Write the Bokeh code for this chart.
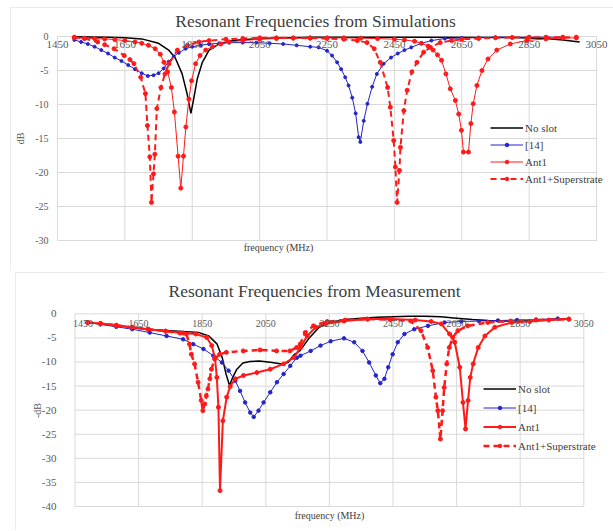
import math
from bokeh.plotting import figure
from bokeh.layouts import column
from bokeh.models import Legend, LegendItem, Range1d, LabelSet, Label, ColumnDataSource
from bokeh.embed import file_html
from bokeh.resources import INLINE

# ---------------- data ----------------
x_ticks = [1450, 1650, 1850, 2050, 2250, 2450, 2650, 2850, 3050]
sim_y_ticks = [0, -5, -10, -15, -20, -25, -30]
meas_y_ticks = [0, -5, -10, -15, -20, -25, -30, -35, -40]
series_names = ["No slot", "[14]", "Ant1", "Ant1+Superstrate"]

# Simulations
sim_noslot_f = [1500, 1600, 1650, 1700, 1750, 1780, 1800, 1820, 1835, 1846, 1855, 1865, 1880, 1900, 1930, 1970, 2050, 2200, 2500, 2800, 2900, 2950, 3000]
sim_noslot_db = [-0.05, -0.1, -0.2, -0.35, -1.0, -2.0, -3.2, -5.5, -8.5, -11.3, -9.0, -6.2, -3.8, -2.0, -1.1, -0.6, -0.3, -0.1, -0.1, -0.15, -0.3, -0.5, -0.8]

sim_ref14_f = [1500, 1520, 1540, 1560, 1580, 1600, 1620, 1640, 1660, 1680, 1700, 1718, 1735, 1750, 1765, 1780, 1795, 1810, 1830, 1850, 1875, 1900, 1930, 1960, 2000, 2040, 2080, 2120, 2160, 2200, 2225, 2250, 2265, 2280, 2292, 2304, 2314, 2325, 2335, 2344, 2349, 2359, 2370, 2384, 2398, 2418, 2440, 2460, 2480, 2500, 2530, 2560, 2600, 2650, 2700, 2750, 2800, 2850, 2900, 2950]
sim_ref14_db = [-0.5, -0.8, -1.1, -1.5, -2.0, -2.5, -3.1, -3.6, -4.2, -4.8, -5.4, -5.8, -5.7, -5.4, -4.7, -3.7, -2.9, -2.4, -1.8, -1.5, -1.3, -1.1, -1.0, -0.9, -0.9, -0.9, -1.0, -1.1, -1.3, -1.5, -1.6, -2.1, -2.8, -3.8, -4.8, -6.0, -7.2, -9.0, -11.3, -14.8, -15.5, -12.4, -9.9, -7.4, -5.5, -4.0, -3.1, -2.5, -2.0, -1.6, -1.0, -0.6, -0.3, -0.2, -0.15, -0.1, -0.1, -0.1, -0.1, -0.1]

sim_ant1_f = [1500, 1530, 1560, 1590, 1620, 1650, 1680, 1700, 1720, 1740, 1755, 1766, 1777, 1788, 1797, 1808, 1816, 1824, 1831, 1840, 1848, 1860, 1873, 1890, 1910, 1935, 1960, 2000, 2050, 2100, 2150, 2200, 2250, 2300, 2350, 2400, 2450, 2480, 2510, 2530, 2550, 2565, 2578, 2590, 2603, 2616, 2631, 2641, 2649, 2655, 2670, 2677, 2684, 2695, 2710, 2728, 2754, 2794, 2843, 2900, 2950, 2990]
sim_ant1_db = [-0.2, -0.25, -0.3, -0.35, -0.45, -0.6, -0.8, -1.0, -1.3, -1.8, -2.6, -3.8, -5.2, -7.5, -11.1, -17.6, -22.3, -17.6, -13.3, -9.2, -6.5, -4.0, -2.8, -2.0, -1.5, -1.1, -0.8, -0.6, -0.4, -0.3, -0.25, -0.2, -0.2, -0.2, -0.25, -0.3, -0.4, -0.5, -0.7, -1.0, -1.4, -2.0, -2.7, -3.5, -5.5, -7.7, -9.4, -11.4, -13.8, -17.0, -17.0, -12.8, -9.9, -7.2, -5.0, -3.3, -2.0, -1.1, -0.6, -0.35, -0.25, -0.2]

sim_sup_f = [1500, 1530, 1569, 1590, 1618, 1648, 1665, 1677, 1697, 1711, 1717, 1724, 1729, 1735, 1739, 1745, 1757, 1769, 1781, 1806, 1836, 1870, 1900, 1950, 2000, 2050, 2100, 2150, 2200, 2250, 2300, 2340, 2369, 2390, 2408, 2430, 2438, 2448, 2453, 2458, 2465, 2468, 2478, 2488, 2502, 2517, 2537, 2557, 2586, 2620, 2650, 2700, 2750, 2800, 2850, 2900, 2950, 2990]
sim_sup_db = [-0.1, -0.3, -0.8, -1.2, -1.8, -2.8, -3.4, -4.0, -6.0, -8.4, -13.1, -17.7, -24.4, -20.2, -17.3, -10.6, -7.5, -5.5, -4.0, -2.0, -1.3, -0.8, -0.6, -0.4, -0.3, -0.2, -0.2, -0.2, -0.25, -0.3, -0.4, -0.6, -0.9, -1.8, -3.8, -7.5, -10.4, -15.3, -19.2, -24.4, -19.7, -16.3, -10.9, -7.9, -5.2, -3.8, -2.3, -1.6, -0.9, -0.6, -0.4, -0.3, -0.2, -0.15, -0.1, -0.1, -0.1, -0.1]

# Measurement
meas_noslot_f = [1490, 1520, 1560, 1600, 1650, 1700, 1750, 1800, 1840, 1871, 1897, 1913, 1925, 1936, 1946, 1959, 1978, 2000, 2030, 2070, 2100, 2120, 2140, 2157, 2188, 2218, 2250, 2300, 2350, 2400, 2450, 2500, 2550, 2600, 2650, 2700, 2750, 2800, 2850, 2900, 2950, 3000]
meas_noslot_db = [-1.8, -2.0, -2.3, -2.6, -3.0, -3.3, -3.5, -3.7, -3.9, -4.6, -6.3, -9.1, -12.5, -14.9, -13.2, -11.5, -10.2, -9.9, -9.8, -10.1, -10.4, -10.1, -8.4, -7.7, -4.9, -2.8, -1.8, -1.2, -0.9, -0.7, -0.6, -0.5, -0.5, -0.6, -0.9, -1.2, -1.4, -1.5, -1.5, -1.4, -1.2, -1.1]

meas_ref14_f = [1490, 1530, 1580, 1630, 1685, 1738, 1790, 1822, 1854, 1885, 1912, 1933, 1954, 1969, 1985, 2001, 2012, 2027, 2043, 2064, 2085, 2106, 2127, 2148, 2159, 2191, 2222, 2254, 2296, 2328, 2354, 2375, 2396, 2410, 2423, 2435, 2449, 2465, 2486, 2517, 2560, 2612, 2665, 2720, 2780, 2840, 2900, 2968]
meas_ref14_db = [-1.8, -2.2, -2.7, -3.2, -3.9, -4.6, -5.3, -6.3, -7.3, -8.7, -10.1, -11.8, -13.9, -16.0, -18.4, -20.5, -21.4, -20.1, -18.4, -16.3, -14.2, -12.5, -10.8, -9.1, -8.7, -7.7, -6.6, -5.7, -5.1, -5.9, -7.7, -10.1, -12.8, -14.4, -13.5, -11.1, -8.4, -5.9, -4.2, -3.2, -2.5, -1.8, -1.6, -1.5, -1.4, -1.3, -1.2, -1.0]

meas_ant1_f = [1490, 1530, 1580, 1630, 1680, 1735, 1790, 1830, 1864, 1880, 1890, 1896, 1901, 1906, 1915, 1927, 1938, 1954, 1980, 2022, 2064, 2106, 2138, 2159, 2180, 2207, 2238, 2296, 2370, 2444, 2520, 2570, 2602, 2628, 2644, 2660, 2670, 2678, 2686, 2693, 2702, 2718, 2739, 2770, 2823, 2880, 2940, 3003]
meas_ant1_db = [-1.8, -2.0, -2.4, -2.8, -3.2, -3.6, -4.0, -4.2, -4.9, -6.6, -9.1, -13.2, -19.4, -36.7, -22.2, -17.3, -15.1, -13.5, -12.8, -12.2, -11.5, -10.4, -9.1, -7.0, -4.6, -2.8, -2.1, -1.5, -1.1, -1.1, -1.3, -1.6, -2.1, -4.2, -5.9, -11.1, -18.4, -23.9, -18.0, -13.2, -10.4, -7.0, -4.6, -2.8, -1.8, -1.6, -1.3, -1.1]

meas_sup_f = [1490, 1530, 1580, 1630, 1680, 1735, 1780, 1800, 1810, 1816, 1826, 1837, 1847, 1852, 1858, 1863, 1868, 1874, 1879, 1889, 1905, 1926, 1979, 2032, 2084, 2126, 2147, 2158, 2174, 2200, 2243, 2300, 2370, 2440, 2506, 2538, 2559, 2575, 2585, 2591, 2599, 2606, 2611, 2619, 2627, 2638, 2654, 2685, 2748, 2820, 2900, 3003]
meas_sup_db = [-1.8, -2.0, -2.4, -2.8, -3.2, -3.6, -4.0, -4.2, -6.3, -8.4, -10.4, -14.2, -18.0, -20.1, -18.7, -17.0, -15.6, -13.5, -11.5, -9.4, -8.4, -8.0, -7.7, -7.5, -7.7, -7.7, -7.0, -6.3, -3.9, -2.5, -1.6, -1.3, -1.1, -1.2, -1.5, -3.5, -7.0, -11.8, -17.3, -20.1, -26.0, -20.1, -15.3, -10.4, -7.0, -4.9, -3.5, -2.5, -1.8, -1.5, -1.3, -1.1]

# ---------------- styling ----------------
SERIF = "Liberation Serif"
GRID = "#d9d9d9"
TXT = "#595959"
DARK = "#404040"
BLUE = "#2424c8"
RED = "#ff1a1a"


def make_panel(box, plot_px, ymin, yticks, title_text, title_pos, ylabel, ylabel_pos,
               ylab_right, ylab_size, xlab_drop, xlab_size, first_lab_shift, freq_pos):
    """box = (left, top, width, height) of the chart card on the page;
    plot_px = (px of 1450, px of 3050, px of 0 dB, px of ymin) on the page."""
    bl, bt, bw, bh = box
    xl, xr, yt, yb = plot_px
    mpp = (x_ticks[-1] - x_ticks[0]) / (xr - xl)
    dpp = (0 - ymin) / (yb - yt)

    def X(px):
        return x_ticks[0] + (px - xl) * mpp

    def Y(py):
        return 0 - (py - yt) * dpp

    p = figure(width=bw, height=bh, x_range=Range1d(X(bl), X(bl + bw)), y_range=Range1d(Y(bt + bh), Y(bt)),
               output_backend="svg", toolbar_location=None, title=None,
               min_border_left=0, min_border_right=0, min_border_top=0, min_border_bottom=0)
    p.margin = (bt, 0, 0, bl)
    p.background_fill_color = "white"
    p.border_fill_color = "white"
    p.outline_line_color = None
    p.styles = {"outline": "1px solid #d9d9d9", "outline-offset": "-1px"}
    p.xaxis.visible = False
    p.yaxis.visible = False
    p.xgrid.visible = False
    p.ygrid.visible = False

    # plot-area grid (1450..3050, ymin..0)
    n_y, n_x = len(yticks), len(x_ticks)
    p.segment(x0=[x_ticks[0]] * n_y, x1=[x_ticks[-1]] * n_y, y0=yticks, y1=yticks,
              line_color=GRID, line_width=1)
    p.segment(x0=x_ticks, x1=x_ticks, y0=[ymin] * n_x, y1=[0] * n_x, line_color=GRID, line_width=1)

    # x tick labels hang under the 0 dB line (horizontal axis crosses at 0)
    xsrc = ColumnDataSource(dict(x=x_ticks, y=[0] * n_x, text=[str(t) for t in x_ticks],
                                 xo=[first_lab_shift] + [0] * (n_x - 1)))
    p.add_layout(LabelSet(x="x", y="y", text="text", source=xsrc, x_offset="xo", y_offset=-xlab_drop,
                          text_align="center", text_baseline="top", text_font=SERIF,
                          text_font_size=xlab_size, text_color=TXT))
    # y tick labels
    ysrc = ColumnDataSource(dict(x=[X(ylab_right)] * n_y, y=yticks, text=[str(t) for t in yticks]))
    p.add_layout(LabelSet(x="x", y="y", text="text", source=ysrc, text_align="right",
                          text_baseline="middle", text_font=SERIF, text_font_size=ylab_size,
                          text_color=TXT))
    # titles
    p.add_layout(Label(x=X(title_pos[0]), y=Y(title_pos[1]), text=title_text, text_align="center",
                       text_baseline="middle", text_font=SERIF, text_font_size="17.5px", text_color=DARK))
    p.add_layout(Label(x=X(ylabel_pos[0]), y=Y(ylabel_pos[1]), text=ylabel, angle=math.pi / 2,
                       text_align="center", text_baseline="middle", text_font=SERIF,
                       text_font_size="10px", text_color=TXT))
    p.add_layout(Label(x=X(freq_pos[0]), y=Y(freq_pos[1]), text="frequency (MHz)", text_align="center",
                       text_baseline="middle", text_font=SERIF, text_font_size="10px", text_color=DARK))
    return p


def add_series(p, data, widths, legend_loc, row_h):
    (f0, d0), (f1, d1), (f2, d2), (f3, d3) = data
    w_black, w_blue, w_red, w_dash, m_blue, m_red = widths
    r0 = p.line(f0, d0, line_color="black", line_width=w_black)
    r1 = p.line(f1, d1, line_color=BLUE, line_width=w_blue)
    s1 = p.scatter(f1, d1, marker="circle", size=m_blue, fill_color=BLUE, line_color=BLUE)
    r2 = p.line(f2, d2, line_color=RED, line_width=w_red)
    s2 = p.scatter(f2, d2, marker="circle", size=m_red, fill_color=RED, line_color=RED)
    r3 = p.line(f3, d3, line_color=RED, line_width=w_dash, line_dash="6 4")
    s3 = p.scatter(f3, d3, marker="circle", size=m_red, fill_color=RED, line_color=RED)
    items = [LegendItem(label=series_names[0], renderers=[r0]),
             LegendItem(label=series_names[1], renderers=[r1, s1]),
             LegendItem(label=series_names[2], renderers=[r2, s2]),
             LegendItem(label=series_names[3], renderers=[r3, s3])]
    leg = Legend(items=items, location=legend_loc, background_fill_alpha=0, border_line_color=None,
                 label_text_font=SERIF, label_text_font_size="11px", label_text_color=DARK,
                 glyph_width=33, glyph_height=9, label_height=row_h, label_standoff=2,
                 spacing=0, padding=0, margin=0)
    p.add_layout(leg, "center")


# card boxes on the page: (left, top, width, height)
p1 = make_panel((10, 7, 603, 264), (57, 596, 36, 240), -30, sim_y_ticks,
                "Resonant Frequencies from Simulations", (315, 20), "dB", (20, 138),
                48, "10px", 4, "11px", 0, (278, 247))
add_series(p1, [(sim_noslot_f, sim_noslot_db), (sim_ref14_f, sim_ref14_db),
                (sim_ant1_f, sim_ant1_db), (sim_sup_f, sim_sup_db)],
           (1.5, 1, 1, 2, 3, 4), (480, 84), 17)

p2 = make_panel((15, 272, 590, 258), (74.5, 583.3, 313.3, 506), -40, meas_y_ticks,
                "Resonant Frequencies from Measurement", (314, 290), "-dB", (37, 410),
                56, "11px", 6, "10px", 8, (329, 515))
p2.margin = (1, 0, 0, 15)
add_series(p2, [(meas_noslot_f, meas_noslot_db), (meas_ref14_f, meas_ref14_db),
                (meas_ant1_f, meas_ant1_db), (meas_sup_f, meas_sup_db)],
           (1.5, 1, 2, 2.5, 3.5, 4), (468, 75), 19)

layout = column(p1, p2, spacing=0)

open("out.html", "w").write(file_html(layout, INLINE))
